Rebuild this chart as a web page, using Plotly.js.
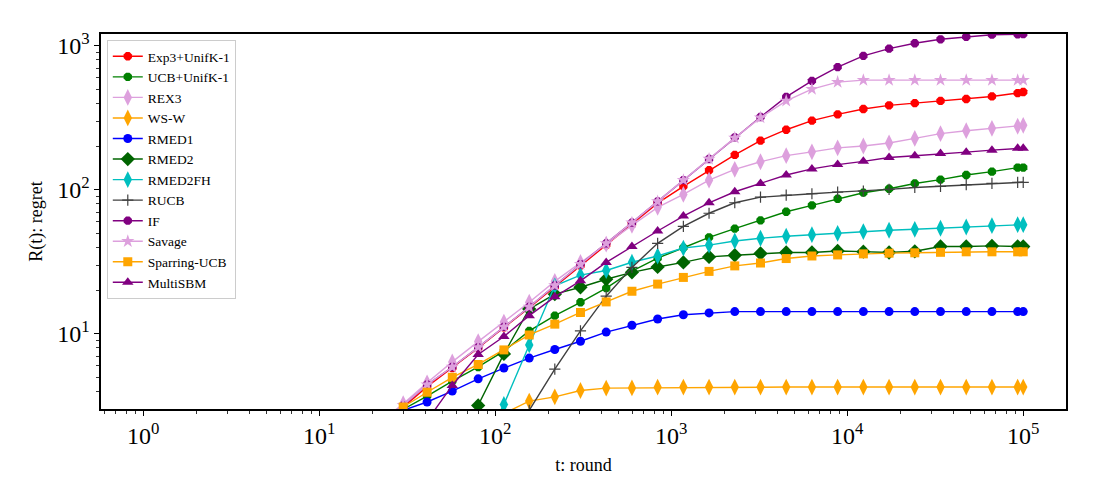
<!DOCTYPE html>
<html>
<head>
<meta charset="utf-8">
<script src="https://cdn.plot.ly/plotly-3.0.1.min.js"></script>
<style>
  body { margin: 0; background: white; }
  #chart { width: 1100px; height: 500px; }
</style>
</head>
<body>
<div id="chart"></div>
<script>
// rounds t where the regret was recorded
var rounds = [21, 30, 41, 57, 80, 112, 156, 218, 305, 427, 598, 837, 1172, 1640, 2296,
    3215, 4500, 6300, 8820, 12348, 17287, 24201, 33882, 47435, 66409, 92972, 100000]

var exp3Unif = [2.2, 3.1, 4.3, 5.8, 8.0, 11.1, 15.2, 21.3, 29.8, 41.5, 58, 81, 106, 137, 175,
    220, 262, 303, 335, 365, 387, 401, 415, 428, 446, 471, 479]
var ucbUnif = [2.2, 3.0, 3.7, 4.7, 5.9, 7.6, 10.5, 13.4, 16.6, 20.8, 27.3, 33.6, 39.7, 46.9, 53.9,
    61.5, 70.6, 78.2, 86.9, 95.7, 102, 111, 118, 127, 134, 143, 143]
var rex3 = [2.3, 3.28, 4.58, 6.4, 8.85, 12.1, 16.6, 23.2, 31.4, 42.0, 56.8, 75.7, 93.1, 117, 139,
    157, 173, 184, 196, 202, 212, 228, 246, 258, 268, 277, 281]
var wsw = [null, null, null, null, null, 2.8, 3.42, 3.66, 4.05, 4.21, 4.22, 4.27, 4.28, 4.28, 4.28,
    4.28, 4.28, 4.28, 4.28, 4.28, 4.28, 4.28, 4.28, 4.28, 4.28, 4.28, 4.28]
var rmed1 = [null, 2.95, 3.37, 4.01, 4.88, 5.8, 6.8, 7.8, 8.9, 10.3, 11.5, 12.7, 13.6, 14.0, 14.3,
    14.3, 14.3, 14.3, 14.3, 14.3, 14.3, 14.3, 14.3, 14.3, 14.3, 14.3, 14.3]
var rmed2 = [null, null, null, 1.4, 3.19, 7.27, 14.9, 18.9, 21.1, 24.0, 26.8, 29.2, 31.4, 34.3, 35.2,
    36.2, 36.8, 36.8, 37.7, 37.3, 36.8, 37.5, 40.5, 40.5, 40.9, 40.5, 40.5]
var rmed2fh = [null, null, null, null, 1.5, 3.24, 8.39, 21.6, 25.6, 27.6, 31.5, 34.8, 39.5, 41.4, 44.2,
    46.2, 47.7, 48.9, 50.0, 51.4, 52.5, 53.3, 54.2, 55.3, 56.5, 57.4, 57.4]
var rucb = [null, null, null, null, null, 1.3, 2.95, 5.7, 10.5, 18.3, 29.0, 42.6, 55.9, 68.9, 81.5,
    89.1, 92.0, 94.1, 96.6, 98.2, 101, 104, 106, 109, 111, 113, 113]
var interleavedFilter = [2.3, 3.18, 4.44, 5.9, 8.07, 11.2, 15.4, 21.7, 30.5, 42.6, 59.3, 83.2, 117, 164, 232,
    321, 443, 572, 713, 853, 958, 1044, 1112, 1159, 1197, 1205, 1210]
var savage = [2.3, 3.2, 4.45, 5.9, 8.07, 11.2, 15.4, 21.7, 30.5, 42.6, 59.3, 83.2, 117, 164, 230,
    318, 416, 501, 561, 579, 579, 579, 579, 579, 579, 579, 579]
var sparringUcb = [2.3, 3.11, 3.94, 5.0, 6.14, 7.75, 9.84, 11.7, 14.1, 16.7, 19.8, 22.2, 24.7, 27.2, 29.7,
    31.1, 33.4, 34.8, 35.4, 36.0, 36.4, 36.6, 36.9, 37.2, 37.2, 37.2, 37.2]
var multiSbm = [null, 1.5, 2.5, 4.39, 7.2, 9.6, 13.4, 18.1, 23.4, 31.4, 40.5, 51.9, 65.9, 81.5, 97.2,
    111, 127, 140, 150, 158, 168, 173, 179, 183, 189, 195, 195]

var names = ['Exp3+UnifK-1', 'UCB+UnifK-1', 'REX3', 'WS-W', 'RMED1', 'RMED2', 'RMED2FH',
    'RUCB', 'IF', 'Savage', 'Sparring-UCB', 'MultiSBM']
var series = [exp3Unif, ucbUnif, rex3, wsw, rmed1, rmed2, rmed2fh, rucb,
    interleavedFilter, savage, sparringUcb, multiSbm]

var xTickVals = [1, 10, 100, 1000, 10000, 100000]
var xTickText = ['10<sup>0</sup>', '10<sup>1</sup>', '10<sup>2</sup>', '10<sup>3</sup>', '10<sup>4</sup>', '10<sup>5</sup>']
var yTickVals = [10, 100, 1000]
var yTickText = ['10<sup>1</sup>', '10<sup>2</sup>', '10<sup>3</sup>']

// colour and marker per algorithm, same order as names
var styles = [
    { color: '#ff0000', symbol: 'octagon', size: 9 },
    { color: '#008000', symbol: 'octagon', size: 9 },
    { color: '#dda0dd', symbol: 'diamond-tall', size: 12 },
    { color: '#ffa500', symbol: 'diamond-tall', size: 12 },
    { color: '#0000ff', symbol: 'circle', size: 9 },
    { color: '#006400', symbol: 'diamond', size: 11 },
    { color: '#00bfbf', symbol: 'diamond-tall', size: 12 },
    { color: '#404040', symbol: 'cross-thin-open', size: 8 },
    { color: '#800080', symbol: 'octagon', size: 9 },
    { color: '#dda0dd', symbol: 'star', size: 10 },
    { color: '#ffa500', symbol: 'square', size: 9 },
    { color: '#800080', symbol: 'triangle-up', size: 10 }
]

function makeTraces() {
    var data = []
    for (let i = 0; i < names.length; i++) {
        var s = styles[i]
        data.push({
            x: rounds,
            y: series[i],
            name: names[i],
            mode: 'lines+markers',
            type: 'scatter',
            line: { color: s.color, width: 1.4 },
            marker: {
                symbol: s.symbol,
                size: s.size,
                color: s.color,
                line: { color: s.color, width: s.symbol == 'cross-thin-open' ? 1.2 : 0 }
            }
        })
    }
    return data
}

var fontFam = '"Liberation Serif", "DejaVu Serif", serif'

var axisBase = {
    type: 'log',
    showgrid: false,
    zeroline: false,
    showline: true,
    mirror: true,
    linecolor: 'black',
    linewidth: 1.6,
    ticks: 'outside',
    ticklen: 5,
    tickwidth: 1,
    tickcolor: 'black',
    tickmode: 'array',
    tickfont: { family: fontFam, size: 24, color: 'black' },
    minor: { ticks: 'outside', ticklen: 3, tickwidth: 0.8, tickcolor: 'black', dtick: 'D1', showgrid: false }
}

var layout = {
    width: 1100,
    height: 500,
    margin: { l: 101, r: 34, t: 34, b: 91 },
    paper_bgcolor: 'white',
    plot_bgcolor: 'white',
    font: { family: fontFam, color: 'black' },
    showlegend: true,
    legend: {
        x: 0.006, y: 0.984, xanchor: 'left', yanchor: 'top',
        bgcolor: 'rgba(255,255,255,0.8)',
        bordercolor: '#cccccc',
        borderwidth: 1,
        itemwidth: 30,
        tracegroupgap: 0,
        font: { family: fontFam, size: 13.5, color: 'black' }
    },
    xaxis: Object.assign({}, axisBase, {
        range: [-0.240, 5.243],
        tickvals: xTickVals,
        ticktext: xTickText,
        title: { text: 't: round', font: { family: fontFam, size: 18 }, standoff: 10 }
    }),
    yaxis: Object.assign({}, axisBase, {
        range: [0.479, 3.083],
        tickvals: yTickVals,
        ticktext: yTickText,
        title: { text: 'R(t): regret', font: { family: fontFam, size: 18 }, standoff: 10 }
    })
}

var options = { displayModeBar: false, staticPlot: true }

Plotly.newPlot('chart', makeTraces(), layout, options)
</script>
</body>
</html>
